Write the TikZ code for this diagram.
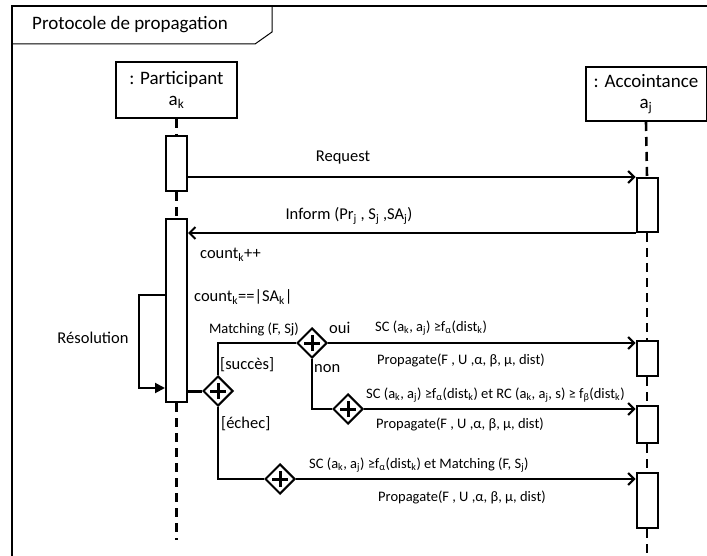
\documentclass[tikz,border=0pt]{standalone}
\usepackage{fontspec}
\setmainfont{Carlito}
\usetikzlibrary{arrows.meta,shapes.geometric}
\newcommand{\sbs}[1]{\textsubscript{#1}}
\tikzset{
  fbig/.style={font=\fontsize{19}{21}\selectfont},
  fmed/.style={font=\fontsize{16.5}{19}\selectfont},
  fsmall/.style={font=\fontsize{14.5}{17}\selectfont},
  objbox/.style={draw,line width=2pt,fill=white,minimum width=121pt,align=center,inner sep=0pt,fbig},
  actbox/.style={draw,line width=2pt,fill=white,minimum width=21pt,inner sep=0pt},
  life/.style={line width=2.6pt,dash pattern=on 9pt off 6pt},
  msg/.style={line width=2pt,-{Straight Barb[length=6pt,width=12pt]}},
  link/.style={line width=2pt},
  gate/.style={draw,line width=2pt,shape=diamond,fill=white,minimum width=30pt,minimum height=30pt,inner sep=0pt,
    path picture={\draw[line width=3pt] (path picture bounding box.center) +(-8pt,0pt) -- +(8pt,0pt)
      (path picture bounding box.center) +(0pt,-8pt) -- +(0pt,8pt);}},
  lbl/.style={inner sep=0pt,anchor=west},
}
\begin{document}
\begin{tikzpicture}[x=1pt,y=-1pt]
\useasboundingbox (0,0) rectangle (707,556);
\clip (0,0) rectangle (707,556);
% frame
\draw[line width=2pt] (12,6) rectangle (730,580);
\draw[line width=1pt] (12,44) -- (255,44) -- (272,32) -- (272,6);
\node[lbl,fbig] (title) at (32,25) {Protocole de propagation};
% objects
\node[objbox,minimum height=56pt] (pk) at (176.5,90) {: Participant\\a\sbs{k}};
\node[objbox,minimum height=54pt] (aj) at (646,94) {: Accointance\\a\sbs{j}};
% activations
\node[actbox,minimum height=55pt] (A1) at (176.5,163.5) {};
\node[actbox,minimum height=183pt] (A2) at (176.5,310.5) {};
\node[actbox,minimum height=54pt] (B1) at (647,205) {};
\node[actbox,minimum height=35pt] (B2) at (647,358.5) {};
\node[actbox,minimum height=37pt] (B3) at (647,424.5) {};
\node[actbox,minimum height=55pt] (B4) at (647,500.5) {};
\coordinate (pkend) at (176.5,540);
\coordinate (ajend) at (647,560);
% lifelines
\draw[life] (pk.south) -- (A1.north);
\draw[life] (A1.south) -- (A2.north);
\draw[life] (A2.south) -- (pkend);
\draw[life] (aj.south) -- (B1.north);
\draw[life] (B1.south) -- (B2.north);
\draw[life] (B2.south) -- (B3.north);
\draw[life] (B3.south) -- (B4.north);
\draw[life] (B4.south) -- (ajend);
% messages
\draw[msg] (A1.east |- B1.north) -- (B1.north west);
\node[fmed] (req) at (343,158) {Request};
\draw[msg] (B1.south west) -- (A2.east |- B1.south);
\node[fmed] (inf) at (349,216) {Inform (Pr\sbs{j} , S\sbs{j} ,SA\sbs{j})};
\node[lbl,fmed] (cnt) at (200,255) {count\sbs{k}++};
\node[lbl,fmed] (cnteq) at (194,297) {count\sbs{k}==|SA\sbs{k}|};
% self loop
\coordinate (r1) at (176.5,295);
\coordinate (r2) at (176.5,388);
\draw[line width=2pt,-{Triangle[length=10pt,width=10pt]}] (A2.west |- r1) -- (139,295) |- (A2.west |- r2);
\node[fmed] (res) at (93,338) {Résolution};
% gates
\node[gate] (D1) at (218,391) {};
\node[gate] (D2) at (312,343) {};
\node[gate] (D3) at (348,409) {};
\node[gate] (D4) at (280,479) {};
\draw[line width=3pt] (A2.east |- D1) -- (D1.west);
\draw[link] (D1.north) |- (D2.west);
\draw[link] (D2.south) |- (D3.west);
\draw[link] (D1.south) |- (D4.west);
\draw[msg] (D2.east) -- (D2.east -| B2.west);
\draw[msg] (D3.east) -- (D3.east -| B3.west);
\draw[msg] (D4.east) -- (D4.east -| B4.west);
% labels
\node[anchor=east,inner sep=0pt,fsmall] (mt) at (299,329) {Matching (F, Sj)};
\node[lbl,fmed] (oui) at (329,328) {oui};
\node[lbl,fmed] (succ) at (220,365) {[succès]};
\node[lbl,fmed] (non) at (314,369) {non};
\node[lbl,fmed] (ech) at (221,424) {[échec]};
\node[lbl,fsmall] (sc1) at (375,328) {SC (a\sbs{k}, a\sbs{j}) ≥f\sbs{α}(dist\sbs{k})};
\node[lbl,fsmall] (p1) at (377,360) {Propagate(F , U ,α, β, μ, dist)};
\node[lbl,fsmall] (sc2) at (366,395) {SC (a\sbs{k}, a\sbs{j}) ≥f\sbs{α}(dist\sbs{k}) et RC (a\sbs{k}, a\sbs{j}, s) ≥ f\sbs{β}(dist\sbs{k})};
\node[lbl,fsmall] (p2) at (376,424) {Propagate(F , U ,α, β, μ, dist)};
\node[lbl,fsmall] (sc3) at (309,465) {SC (a\sbs{k}, a\sbs{j}) ≥f\sbs{α}(dist\sbs{k}) et Matching (F, S\sbs{j})};
\node[lbl,fsmall] (p3) at (378,497) {Propagate(F , U ,α, β, μ, dist)};
\end{tikzpicture}
\end{document}
